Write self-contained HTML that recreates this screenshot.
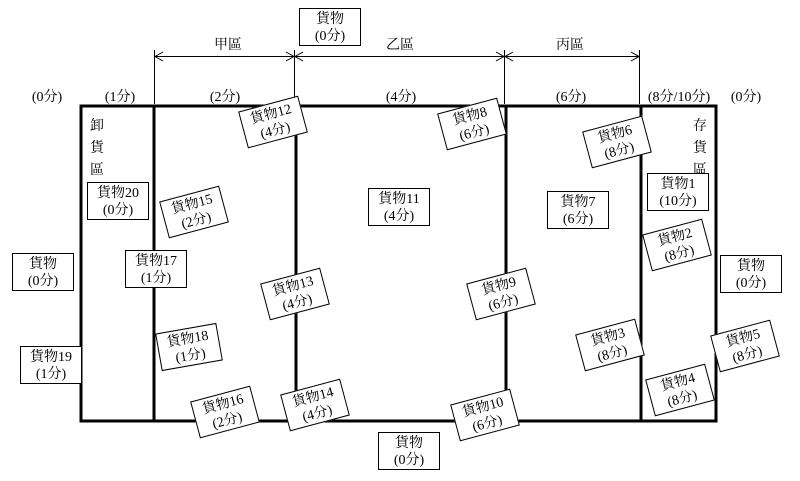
<!DOCTYPE html>
<html><head><meta charset="utf-8"><style>
html,body{margin:0;padding:0;background:#fff;}
#c{position:relative;width:800px;height:481px;overflow:hidden;font-family:"Liberation Serif","Noto Serif CJK SC","Noto Sans CJK TC",serif;font-size:14px;color:#000;}
.b{position:absolute;width:60px;height:34px;padding-top:2px;border:1.5px solid #000;background:#fff;text-align:center;line-height:17px;font-size:14px;box-sizing:content-box;}
.t{position:absolute;font-size:14px;white-space:nowrap;transform:translateX(-50%);}
.v{position:absolute;font-size:14px;line-height:22px;width:16px;}
</style></head><body><div id="c">
<svg width="800" height="481" style="position:absolute;left:0;top:0">
<g stroke="#000" fill="none">
<rect x="81" y="106" width="635" height="315" stroke-width="3"/>
<line x1="154" y1="106" x2="154" y2="421" stroke-width="3"/>
<line x1="296" y1="106" x2="296" y2="421" stroke-width="3"/>
<line x1="506" y1="106" x2="506" y2="421" stroke-width="3"/>
<line x1="641" y1="106" x2="641" y2="421" stroke-width="3"/>
<g stroke-width="1">
<line x1="154.5" y1="50" x2="154.5" y2="104"/>
<line x1="294.5" y1="50" x2="294.5" y2="104"/>
<line x1="504.5" y1="50" x2="504.5" y2="104"/>
<line x1="639.5" y1="50" x2="639.5" y2="104"/>
<line x1="155" y1="56.5" x2="639" y2="56.5"/>
<polyline points="163,52 155,56.5 163,61"/>
<polyline points="286,52 294,56.5 286,61"/>
<polyline points="303,52 295,56.5 303,61"/>
<polyline points="496,52 504,56.5 496,61"/>
<polyline points="513,52 505,56.5 513,61"/>
<polyline points="631,52 639,56.5 631,61"/>
</g></g></svg>
<div class="t" style="left:228px;top:34px">甲區</div>
<div class="t" style="left:400px;top:34px">乙區</div>
<div class="t" style="left:570px;top:34px">丙區</div>
<div class="t" style="left:47px;top:86px">(0分)</div>
<div class="t" style="left:120px;top:86px">(1分)</div>
<div class="t" style="left:225px;top:86px">(2分)</div>
<div class="t" style="left:401px;top:86px">(4分)</div>
<div class="t" style="left:571px;top:86px">(6分)</div>
<div class="t" style="left:679px;top:86px">(8分/10分)</div>
<div class="t" style="left:746px;top:86px">(0分)</div>
<div class="v" style="left:90px;top:116px">卸貨區</div>
<div class="v" style="left:693px;top:116px">存貨區</div>

<div class="b" style="left:299px;top:8px">貨物<br>(0分)</div>
<div class="b" style="left:87px;top:182px">貨物20<br>(0分)</div>
<div class="b" style="left:368px;top:188px">貨物11<br>(4分)</div>
<div class="b" style="left:547px;top:191px">貨物7<br>(6分)</div>
<div class="b" style="left:647px;top:173px">貨物1<br>(10分)</div>
<div class="b" style="left:12px;top:253px">貨物<br>(0分)</div>
<div class="b" style="left:125px;top:250px">貨物17<br>(1分)</div>
<div class="b" style="left:720px;top:255px">貨物<br>(0分)</div>
<div class="b" style="left:20px;top:346px">貨物19<br>(1分)</div>
<div class="b" style="left:378px;top:432px">貨物<br>(0分)</div>

<div class="b" style="left:242px;top:103px;transform:rotate(-15deg)">貨物12<br>(4分)</div>
<div class="b" style="left:441px;top:105px;transform:rotate(-15deg)">貨物8<br>(6分)</div>
<div class="b" style="left:586px;top:123px;transform:rotate(-15deg)">貨物6<br>(8分)</div>
<div class="b" style="left:163px;top:193px;transform:rotate(-15deg)">貨物15<br>(2分)</div>
<div class="b" style="left:646px;top:226px;transform:rotate(-15deg)">貨物2<br>(8分)</div>
<div class="b" style="left:264px;top:275px;transform:rotate(-15deg)">貨物13<br>(4分)</div>
<div class="b" style="left:470px;top:275px;transform:rotate(-15deg)">貨物9<br>(6分)</div>
<div class="b" style="left:158px;top:328px;transform:rotate(-10deg)">貨物18<br>(1分)</div>
<div class="b" style="left:579px;top:326px;transform:rotate(-15deg)">貨物3<br>(8分)</div>
<div class="b" style="left:714px;top:327px;transform:rotate(-15deg)">貨物5<br>(8分)</div>
<div class="b" style="left:649px;top:371px;transform:rotate(-15deg)">貨物4<br>(8分)</div>
<div class="b" style="left:194px;top:393px;transform:rotate(-15deg)">貨物16<br>(2分)</div>
<div class="b" style="left:284px;top:386px;transform:rotate(-15deg)">貨物14<br>(4分)</div>
<div class="b" style="left:454px;top:396px;transform:rotate(-15deg)">貨物10<br>(6分)</div>
</div></body></html>
